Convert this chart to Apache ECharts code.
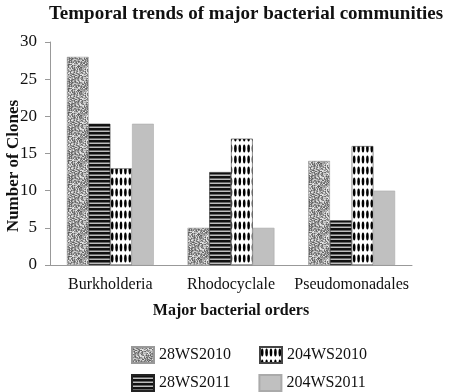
<!DOCTYPE html>
<html>
<head>
<meta charset="utf-8">
<script src="https://cdn.jsdelivr.net/npm/echarts@6/dist/echarts.min.js"></script>
<style>
  html, body { margin: 0; padding: 0; background: #fff; }
  #chart { width: 454px; height: 392px; }
</style>
</head>
<body>
<div id="chart"></div>
<script>
(function () {
  'use strict';

  // ── Data ──
  var categories = ['Burkholderia', 'Rhodocyclale', 'Pseudomonadales'];
  var seriesNames = ['28WS2010', '28WS2011', '204WS2010', '204WS2011'];
  var ws28y2010 = [28, 5, 14];
  var ws28y2011 = [19, 12.5, 6];
  var ws204y2010 = [13, 17, 16];
  var ws204y2011 = [19, 5, 10];

  var FONT = '"Liberation Serif", "DejaVu Serif", serif';

  // ── Fill patterns ──

  function makeCanvas(w, h) {
    var c = document.createElement('canvas');
    c.width = w; c.height = h;
    return c;
  }

  // gray speckle, deterministic hash so it's stable run to run
  function speckle() {
    var c = makeCanvas(24, 24);
    var ctx = c.getContext('2d');
    var img = ctx.createImageData(24, 24);
    var s = 12345;
    for (var i = 0; i < 24 * 24; i++) {
      s = (s * 1103515245 + 12345) & 0x7fffffff;
      var v = 90 + ((s >> 8) % 150);
      img.data[i * 4] = v;
      img.data[i * 4 + 1] = v;
      img.data[i * 4 + 2] = v;
      img.data[i * 4 + 3] = 255;
    }
    ctx.putImageData(img, 0, 0);
    return c;
  }

  function hStripes() {
    var c = makeCanvas(8, 4);
    var ctx = c.getContext('2d');
    ctx.fillStyle = '#111';
    ctx.fillRect(0, 0, 8, 4);
    ctx.fillStyle = '#e8e8e8';
    ctx.fillRect(0, 2.6, 8, 1.2);
    return c;
  }

  function ovals() {
    var c = makeCanvas(22, 11);
    var ctx = c.getContext('2d');
    ctx.fillStyle = '#fff';
    ctx.fillRect(0, 0, 22, 11);
    ctx.fillStyle = '#000';
    for (var i = 0; i < 5; i++) {
      ctx.beginPath();
      ctx.ellipse(2.2 + i * 4.4, 5.5, 1.3, 4, 0, 0, Math.PI * 2);
      ctx.fill();
    }
    return c;
  }

  var fills = [
    { image: speckle(), repeat: 'repeat' },
    { image: hStripes(), repeat: 'repeat' },
    { image: ovals(), repeat: 'repeat' },
    '#c0c0c0'
  ];
  var borders = ['#999', '#222', '#444', '#aaa'];
  var values = [ws28y2010, ws28y2011, ws204y2010, ws204y2011];

  var series = seriesNames.map(function (name, i) {
    return {
      name: name,
      type: 'bar',
      barGap: '0%',
      barCategoryGap: '28%',
      data: values[i],
      itemStyle: { color: fills[i], borderColor: borders[i], borderWidth: 0.6 }
    };
  });

  function legend(names, top) {
    return {
      data: names,
      left: 131,
      top: top,
      padding: 0,
      itemWidth: 22,
      itemHeight: 16,
      itemGap: 28,
      icon: 'rect',
      selectedMode: false,
      textStyle: { fontFamily: FONT, fontSize: 16, color: '#111' }
    };
  }

  var chart = echarts.init(document.getElementById('chart'), null, { renderer: 'canvas' });
  chart.setOption({
    animation: false,
    title: {
      text: 'Temporal trends of major bacterial communities',
      left: 241,
      textAlign: 'center',
      top: 0,
      textStyle: { fontFamily: FONT, fontSize: 19, fontWeight: 'bold', color: '#111' }
    },
    legend: [
      legend(['28WS2010', '204WS2010'], 346),
      legend(['28WS2011', '204WS2011'], 374)
    ],
    // y-axis title sits a little below the plot middle, as in the original
    graphic: [{
      type: 'text',
      x: 14,
      y: 166,
      rotation: Math.PI / 2,
      style: {
        text: 'Number of Clones',
        fontFamily: FONT,
        fontSize: 17,
        fontWeight: 'bold',
        fill: '#111',
        align: 'center',
        verticalAlign: 'middle'
      }
    }],
    grid: { left: 50, right: 42, top: 42, bottom: 127, containLabel: false, outerBoundsMode: 'none' },
    xAxis: {
      type: 'category',
      data: categories,
      name: 'Major bacterial orders',
      nameLocation: 'middle',
      nameGap: 38,
      nameTextStyle: { fontFamily: FONT, fontSize: 16, fontWeight: 'bold', color: '#111' },
      axisLine: { lineStyle: { color: '#999' } },
      axisTick: { show: false },
      axisLabel: { interval: 0, fontFamily: FONT, fontSize: 16, color: '#111', margin: 12 }
    },
    yAxis: {
      type: 'value',
      min: 0,
      max: 30,
      interval: 5,
      axisLine: { show: true, lineStyle: { color: '#999' } },
      axisTick: { show: true, length: 5, lineStyle: { color: '#999' } },
      splitLine: { show: false },
      axisLabel: { fontFamily: FONT, fontSize: 17, color: '#111', margin: 13 }
    },
    series: series
  });
})();
</script>
</body>
</html>
